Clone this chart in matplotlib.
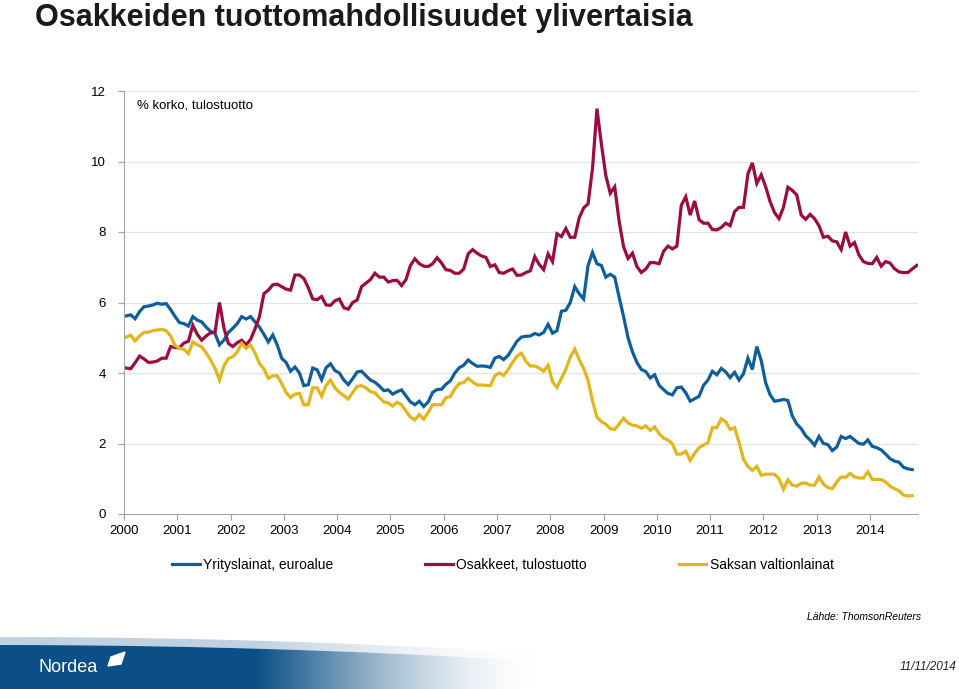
import numpy as np
import matplotlib.pyplot as plt
from matplotlib.patches import Polygon

plt.rcParams['font.family'] = ['Liberation Sans', 'DejaVu Sans']

# Kuukausidata tammikuu 2000 - lokakuu 2014 (osakkeet myös marraskuu 2014)
yrityslainat = [
    5.62, 5.65, 5.54, 5.74, 5.88, 5.90, 5.93, 5.98, 5.95, 5.97, 5.80, 5.60,  # 2000
    5.43, 5.40, 5.33, 5.60, 5.50, 5.45, 5.30, 5.18, 5.12, 4.80, 4.93, 5.15,  # 2001
    5.27, 5.40, 5.60, 5.53, 5.60, 5.45, 5.30, 5.10, 4.88, 5.08, 4.80, 4.42,  # 2002
    4.30, 4.05, 4.17, 4.00, 3.64, 3.67, 4.14, 4.09, 3.81, 4.15, 4.26, 4.07,  # 2003
    4.00, 3.80, 3.67, 3.84, 4.03, 4.05, 3.92, 3.80, 3.74, 3.63, 3.50, 3.52,  # 2004
    3.40, 3.47, 3.52, 3.35, 3.18, 3.10, 3.20, 3.05, 3.18, 3.45, 3.53, 3.54,  # 2005
    3.68, 3.78, 4.00, 4.15, 4.22, 4.37, 4.27, 4.19, 4.20, 4.19, 4.16, 4.42,  # 2006
    4.47, 4.38, 4.50, 4.70, 4.90, 5.02, 5.04, 5.05, 5.12, 5.08, 5.15, 5.38,  # 2007
    5.13, 5.20, 5.75, 5.78, 6.00, 6.45, 6.25, 6.10, 7.05, 7.42, 7.10, 7.05,  # 2008
    6.72, 6.80, 6.72, 6.15, 5.60, 5.00, 4.60, 4.30, 4.10, 4.04, 3.86, 3.95,  # 2009
    3.65, 3.53, 3.42, 3.38, 3.58, 3.60, 3.44, 3.20, 3.27, 3.34, 3.65, 3.80,  # 2010
    4.05, 3.95, 4.13, 4.03, 3.87, 4.02, 3.80, 3.98, 4.42, 4.10, 4.75, 4.35,  # 2011
    3.72, 3.38, 3.20, 3.22, 3.25, 3.22, 2.78, 2.55, 2.42, 2.22, 2.10, 1.95,  # 2012
    2.20, 2.00, 1.97, 1.80, 1.90, 2.20, 2.14, 2.20, 2.10, 2.00, 1.98, 2.10,  # 2013
    1.92, 1.88, 1.82, 1.70, 1.57, 1.50, 1.47, 1.33, 1.28, 1.26,              # 2014
]

osakkeet = [
    4.14, 4.12, 4.29, 4.48, 4.40, 4.30, 4.31, 4.34, 4.42, 4.42, 4.75, 4.72,  # 2000
    4.72, 4.85, 4.90, 5.35, 5.10, 4.93, 5.05, 5.14, 5.16, 6.00, 5.28, 4.84,  # 2001
    4.75, 4.86, 4.93, 4.80, 4.95, 5.25, 5.60, 6.25, 6.35, 6.50, 6.52, 6.45,  # 2002
    6.38, 6.35, 6.78, 6.78, 6.68, 6.42, 6.10, 6.08, 6.17, 5.93, 5.92, 6.05,  # 2003
    6.10, 5.85, 5.81, 6.00, 6.07, 6.45, 6.55, 6.65, 6.83, 6.72, 6.72, 6.58,  # 2004
    6.62, 6.63, 6.48, 6.65, 7.05, 7.24, 7.10, 7.03, 7.02, 7.10, 7.27, 7.12,  # 2005
    6.93, 6.91, 6.83, 6.83, 6.95, 7.38, 7.50, 7.40, 7.32, 7.28, 7.02, 7.07,  # 2006
    6.85, 6.83, 6.90, 6.95, 6.77, 6.78, 6.85, 6.90, 7.30, 7.08, 6.93, 7.38,  # 2007
    7.16, 7.95, 7.87, 8.10, 7.85, 7.85, 8.40, 8.68, 8.80, 9.80, 11.50, 10.50,  # 2008
    9.60, 9.10, 9.28, 8.30, 7.58, 7.25, 7.40, 7.02, 6.85, 6.95, 7.13, 7.13,  # 2009
    7.10, 7.45, 7.60, 7.52, 7.60, 8.76, 9.00, 8.48, 8.88, 8.35, 8.25, 8.25,  # 2010
    8.07, 8.06, 8.13, 8.25, 8.18, 8.58, 8.70, 8.70, 9.65, 9.96, 9.38, 9.62,  # 2011
    9.28, 8.86, 8.55, 8.38, 8.70, 9.27, 9.18, 9.05, 8.48, 8.36, 8.50, 8.38,  # 2012
    8.18, 7.85, 7.88, 7.75, 7.72, 7.50, 8.00, 7.60, 7.70, 7.35, 7.16, 7.11,  # 2013
    7.10, 7.28, 7.03, 7.16, 7.12, 6.96, 6.87, 6.85, 6.85, 6.95, 7.05,        # 2014
]

saksa = [
    5.02, 5.07, 4.91, 5.05, 5.15, 5.16, 5.20, 5.22, 5.24, 5.20, 5.05, 4.78,  # 2000
    4.70, 4.67, 4.55, 4.88, 4.80, 4.74, 4.57, 4.37, 4.13, 3.80, 4.20, 4.41,  # 2001
    4.46, 4.60, 4.84, 4.70, 4.79, 4.57, 4.27, 4.12, 3.85, 3.92, 3.92, 3.70,  # 2002
    3.45, 3.30, 3.40, 3.42, 3.10, 3.10, 3.58, 3.58, 3.34, 3.65, 3.80, 3.58,  # 2003
    3.45, 3.36, 3.26, 3.45, 3.62, 3.64, 3.58, 3.47, 3.44, 3.30, 3.18, 3.15,  # 2004
    3.06, 3.17, 3.10, 2.92, 2.75, 2.67, 2.82, 2.69, 2.88, 3.10, 3.10, 3.10,  # 2005
    3.30, 3.33, 3.55, 3.70, 3.73, 3.85, 3.75, 3.66, 3.66, 3.65, 3.64, 3.92,  # 2006
    4.00, 3.93, 4.10, 4.30, 4.48, 4.56, 4.33, 4.20, 4.20, 4.14, 4.05, 4.22,  # 2007
    3.75, 3.59, 3.85, 4.10, 4.45, 4.68, 4.38, 4.13, 3.80, 3.20, 2.75, 2.62,  # 2008
    2.55, 2.42, 2.40, 2.55, 2.72, 2.58, 2.52, 2.50, 2.43, 2.50, 2.37, 2.47,  # 2009
    2.28, 2.15, 2.10, 1.99, 1.70, 1.70, 1.78, 1.52, 1.72, 1.88, 1.96, 2.02,  # 2010
    2.45, 2.45, 2.70, 2.62, 2.40, 2.45, 2.03, 1.55, 1.35, 1.24, 1.35, 1.10,  # 2011
    1.13, 1.13, 1.13, 1.00, 0.70, 0.97, 0.82, 0.79, 0.87, 0.88, 0.82, 0.82,  # 2012
    1.05, 0.85, 0.75, 0.72, 0.91, 1.05, 1.04, 1.15, 1.05, 1.02, 1.02, 1.20,  # 2013
    0.98, 0.98, 0.98, 0.91, 0.79, 0.72, 0.66, 0.54, 0.51, 0.52,              # 2014
]

vuodet = list(range(2000, 2015))
sarjat = ['Yrityslainat, euroalue', 'Osakkeet, tulostuotto', 'Saksan valtionlainat']
varit = ['#0f5e9c', '#9c0c40', '#e2b619']


def kuukaudet(arvot):
    # kuukauden puoliväli vuosina
    return 2000 + (np.arange(len(arvot)) + 0.5) / 12.0


fig = plt.figure(figsize=(9.59, 6.89), dpi=100)
ax = fig.add_axes([124 / 959, 1 - 514 / 689, (918 - 124) / 959, (514 - 91) / 689])

for arvot, nimi, vari in zip([yrityslainat, osakkeet, saksa], sarjat, varit):
    ax.plot(kuukaudet(arvot), arvot, color=vari, lw=2.3, label=nimi,
            solid_joinstyle='miter')

ax.set_xlim(2000, 2014.9)
ax.set_ylim(0, 12)
ax.set_yticks(range(0, 13, 2))
ax.set_xticks(vuodet)
ax.set_xticklabels([str(v) for v in vuodet])
ax.grid(axis='y', color='#e3e3e3', lw=0.9)
ax.set_axisbelow(True)
for s in ['top', 'right']:
    ax.spines[s].set_visible(False)
for s in ['left', 'bottom']:
    ax.spines[s].set_color('#a6a6a6')
ax.tick_params(axis='both', colors='#a6a6a6', labelcolor='black', labelsize=9.5,
               length=4, width=0.9)
ax.tick_params(axis='x', pad=4)
ax.tick_params(axis='y', pad=9)

fig.text(137 / 959, 1 - 106 / 689, '% korko, tulostuotto', fontsize=9.5,
         va='center', ha='left')
fig.text(35 / 959, 1 - 26 / 689, 'Osakkeiden tuottomahdollisuudet ylivertaisia',
         fontsize=22, fontweight='bold', va='baseline', ha='left', color='#1a1a1a')

leg = fig.legend(loc='upper left', bbox_to_anchor=(172 / 959, 1 - 558 / 689),
                 ncol=3, frameon=False, fontsize=10, handlelength=2.0,
                 handletextpad=0.25, columnspacing=6.6, borderpad=0,
                 borderaxespad=0)

fig.text(921 / 959, 1 - 617 / 689, 'Lähde: ThomsonReuters', fontsize=7.5,
         style='italic', ha='right', va='center')

# alapalkki
bx = fig.add_axes([0, 0, 1, 56 / 689])
bx.set_axis_off()
W, H = 959, 56
xx, yy = np.meshgrid(np.arange(W) + 0.5, np.arange(H) + 0.5)
reuna = 12 + 14 * (xx / 500.0) ** 2  # yläreunan kaari (px ylhäältä)
vaaleus = np.clip((xx - 255) / 280.0, 0, 1)
sininen = np.array([11, 79, 134]) / 255.0
vaalea = np.array([150, 180, 205]) / 255.0
tumma = np.clip(yy - reuna + 0.5, 0, 1)
raita = np.clip(yy - (reuna - 8) + 0.5, 0, 1) * (1 - tumma)
kuva = np.ones((H, W, 4))
for k in range(3):
    vari = sininen[k] * tumma + vaalea[k] * raita
    kuva[..., k] = (vari / np.maximum(tumma + raita, 1e-6)) * (1 - vaaleus) + vaaleus
kuva[..., 3] = np.clip((tumma + 0.6 * raita) * (1 - 0.9 * vaaleus ** 1.5), 0, 1)
bx.imshow(kuva, extent=(0, W, H, 0), aspect='auto', interpolation='bilinear')
bx.set_xlim(0, W)
bx.set_ylim(H, 0)
bx.text(39, 34, 'Nordea', color='white', fontsize=13, va='center', ha='left')
bx.add_patch(Polygon([[111, 24], [125, 19], [121, 31], [108, 33]], closed=True,
                     color='white'))
bx.text(956, 34, '11/11/2014', fontsize=8.5, style='italic', ha='right',
        va='center', color='#222222')

fig.savefig('out.png', dpi=100)
